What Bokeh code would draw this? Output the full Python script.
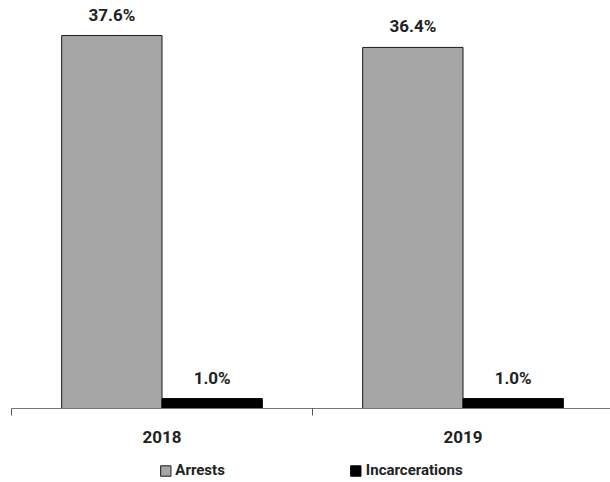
import numpy as np
from bokeh.plotting import figure
from bokeh.layouts import column
from bokeh.core.properties import value
from bokeh.models import ColumnDataSource, Range1d, FixedTicker, LabelSet, Legend, LegendItem
from bokeh.embed import file_html
from bokeh.resources import INLINE

years = ["2018", "2019"]
arrests = [37.6, 36.4]
incarcerations = [1.0, 1.0]
series_names = ["Arrests", "Incarcerations"]
series_colors = ["#A6A6A6", "#000000"]

TXT = "#222222"
FONT = "Roboto"

centers = np.arange(len(years)) + 0.5
bw = 1.0 / 3.0

src = ColumnDataSource(dict(
    xa=centers - bw / 2, xi=centers + bw / 2,
    arrests=arrests, inc=incarcerations,
    la=[f"{v:.1f}%" for v in arrests],
    li=[f"{v:.1f}%" for v in incarcerations],
))

p = figure(frame_width=599, frame_height=408, output_backend="svg", toolbar_location=None,
           x_range=Range1d(0, 1.99), y_range=Range1d(0, 41.13),
           y_axis_location=None, min_border_left=11, min_border_right=0,
           min_border_top=0, min_border_bottom=50)
p.outline_line_color = None
p.xgrid.visible = False
p.ygrid.visible = False

ra = p.vbar(x="xa", top="arrests", width=bw, source=src,
            fill_color=series_colors[0], line_color="#1a1a1a", line_width=1)
ri = p.vbar(x="xi", top="inc", width=bw, source=src,
            fill_color=series_colors[1], line_color="#000000", line_width=1)

ax = p.xaxis[0]
ax.axis_label = None
ax.ticker = FixedTicker(ticks=list(centers), minor_ticks=list(range(len(years) + 1)))
ax.major_label_overrides = {float(c): y for c, y in zip(centers, years)}
ax.major_tick_out = 0
ax.major_tick_in = 0
ax.minor_tick_out = 7
ax.minor_tick_in = 0
ax.minor_tick_line_color = "#555555"
ax.axis_line_color = "#777777"
ax.major_label_standoff = 15
ax.major_label_text_font = FONT
ax.major_label_text_font_size = "17px"
ax.major_label_text_font_style = "bold"
ax.major_label_text_color = TXT

for col, xcol, lab in (("arrests", "xa", "la"), ("inc", "xi", "li")):
    ls = LabelSet(x=xcol, y=col, text=lab, source=src, text_align="center",
                  text_baseline="middle", y_offset=21, text_font=value(FONT),
                  text_font_size=value("17px"), text_font_style=value("bold"),
                  text_color=value(TXT))
    p.add_layout(ls)

# legend strip under the chart (its glyphs sit outside the visible range)
pl = figure(frame_width=599, frame_height=24, output_backend="svg", toolbar_location=None,
            x_range=Range1d(0, 1), y_range=Range1d(0, 1),
            x_axis_location=None, y_axis_location=None,
            min_border_left=11, min_border_right=0, min_border_top=0, min_border_bottom=0)
pl.outline_line_color = None
pl.xgrid.visible = False
pl.ygrid.visible = False
dummy = ColumnDataSource(dict(x=[-10.0], top=[0.0]))
r1 = pl.vbar(x="x", top="top", width=0.1, source=dummy,
             fill_color=series_colors[0], line_color="#1a1a1a")
r2 = pl.vbar(x="x", top="top", width=0.1, source=dummy,
             fill_color=series_colors[1], line_color="#000000")

legend = Legend(items=[LegendItem(label=n, renderers=[r], index=0)
                       for n, r in zip(series_names, (r1, r2))],
                location="center", orientation="horizontal",
                glyph_width=13, glyph_height=13, label_standoff=4,
                label_height=13, spacing=124,
                padding=0, margin=0,
                label_text_font=FONT, label_text_font_size="15px",
                label_text_font_style="bold", label_text_color=TXT,
                border_line_color=None, background_fill_alpha=0)
pl.add_layout(legend)

layout = column(p, pl, spacing=0)
open("out.html", "w").write(file_html(layout, INLINE))
